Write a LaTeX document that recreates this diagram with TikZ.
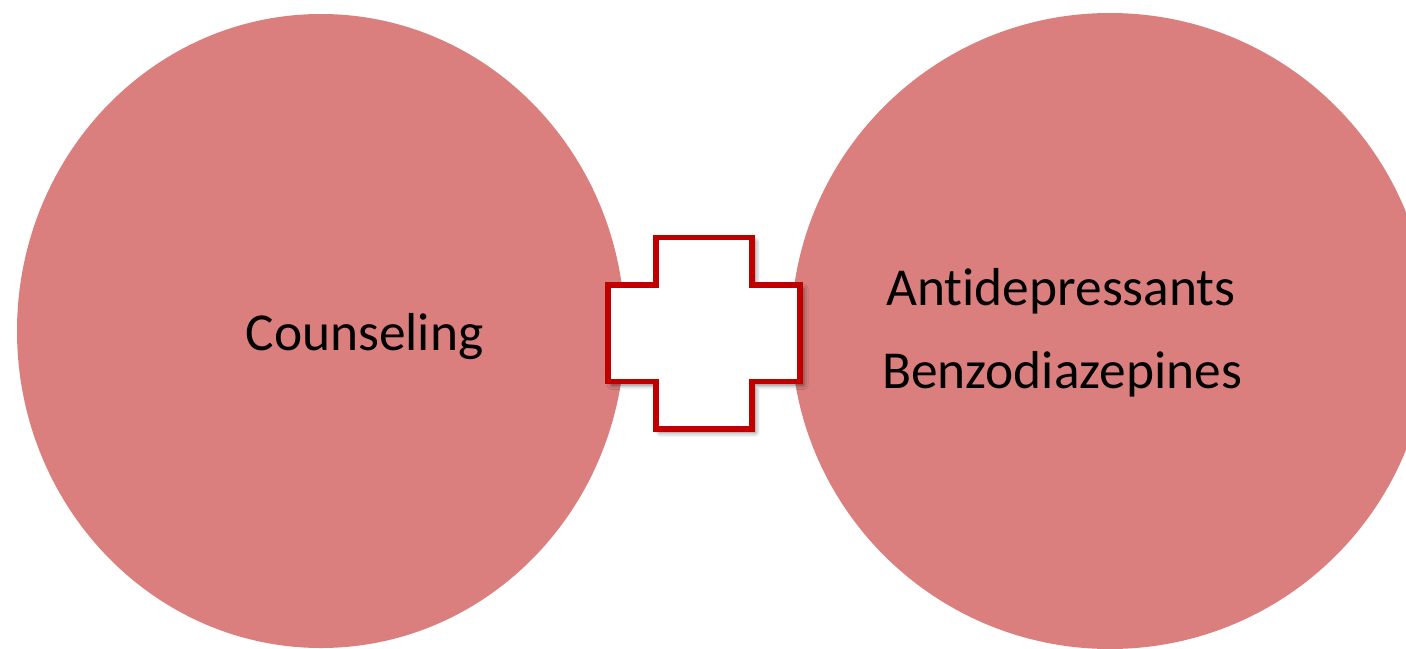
\documentclass[tikz,border=0pt]{standalone}
\usepackage{fontspec}
\setmainfont{Carlito}[RawFeature={-liga;-clig;-calt;-dlig}]
\usetikzlibrary{shapes.geometric,shadows.blur}
\definecolor{bubble}{RGB}{219,127,126}
\definecolor{crossred}{RGB}{192,0,0}
\tikzset{
  bubblenode/.style={ellipse, fill=bubble, draw=none, inner sep=0pt},
  label26/.style={font=\fontsize{26.7}{26.7}\selectfont, text=black, anchor=base, inner sep=0pt},
  plussign/.style={draw=crossred, fill=white, line width=2.7pt, miter limit=10,
    blur shadow={shadow xshift=1.8pt, shadow yshift=-1.8pt, shadow blur radius=2.2pt, shadow opacity=55}}
}
\begin{document}
\begin{tikzpicture}[x=0.5pt, y=-0.5pt]
\useasboundingbox (0,0) rectangle (1406,648);
\clip (0,0) rectangle (1406,648);
\node[bubblenode, minimum width=304pt, minimum height=317pt] (left) at (321,331) {};
\node[bubblenode, minimum width=319pt, minimum height=318pt] (right) at (1110,331) {};
\path[plussign] (656,237.5) -- (752,237.5) -- (752,285) -- (800,285) -- (800,381.5)
  -- (752,381.5) -- (752,429) -- (656,429) -- (656,381.5) -- (608,381.5)
  -- (608,285) -- (656,285) -- cycle;
\node[label26] (couns) at (364.5,350) {Counseling};
\node[label26] (anti) at (1061,305) {Antidepressants};
\node[label26] (benzo) at (1062,388) {Benzodiazepines};
\end{tikzpicture}
\end{document}
